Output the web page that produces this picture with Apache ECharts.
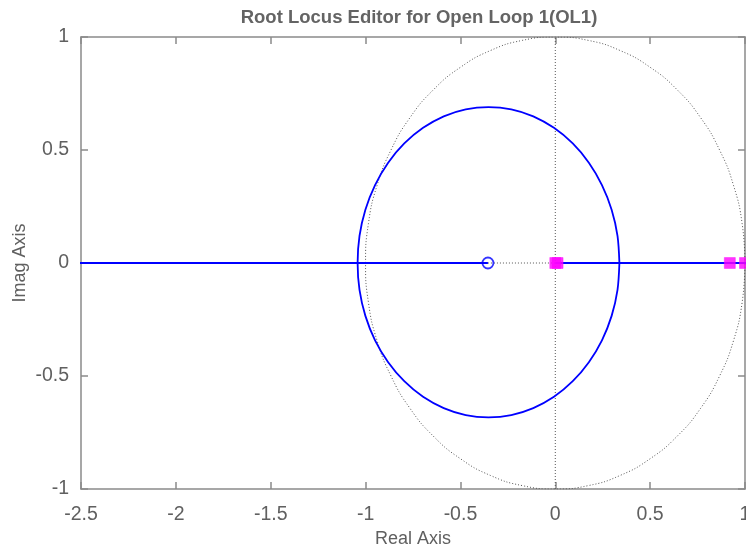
<!DOCTYPE html>
<html>
<head>
<meta charset="utf-8">
<script src="https://cdn.jsdelivr.net/npm/echarts@6/dist/echarts.min.js"></script>
<style>html,body{margin:0;padding:0;background:#fff}#c{width:746px;height:552px}</style>
</head>
<body>
<div id="c"></div>
<script>
// Tick values
const xTicks = [-2.5, -2, -1.5, -1, -0.5, 0, 0.5, 1];
const yTicks = [-1, -0.5, 0, 0.5, 1];

// Root locus branch (closed loop around the zero), upper half then lower half
const locusCircle = [
  [0.338, 0], [0.328, 0.120], [0.297, 0.236], [0.246, 0.345], [0.177, 0.444],
  [0.092, 0.529], [-0.007, 0.598], [-0.116, 0.649], [-0.232, 0.680],
  [-0.352, 0.690], [-0.472, 0.680], [-0.588, 0.649], [-0.697, 0.598],
  [-0.796, 0.529], [-0.881, 0.444], [-0.950, 0.345], [-1.001, 0.236],
  [-1.032, 0.120], [-1.042, 0],
  [-1.032, -0.119], [-1.001, -0.234], [-0.950, -0.342], [-0.881, -0.439],
  [-0.796, -0.523], [-0.697, -0.592], [-0.588, -0.642], [-0.472, -0.673],
  [-0.352, -0.683], [-0.232, -0.673], [-0.116, -0.642], [-0.007, -0.592],
  [0.092, -0.523], [0.177, -0.439], [0.246, -0.342], [0.297, -0.234],
  [0.328, -0.119], [0.338, 0]
];
// Real-axis locus segments
const locusRealLeft = [[-2.6, 0], [-0.355, 0]];
const locusRealRight = [[0, 0], [1.05, 0]];
// Dotted guide segment between zero and pole
const dottedReal = [[-0.355, 0], [0, 0]];
// Dotted imaginary axis
const dottedImag = [[0, -1], [0, 1]];
// Unit circle (dotted)
const unitCircle = [
  [1, 0], [0.985, 0.174], [0.940, 0.342], [0.866, 0.5], [0.766, 0.643],
  [0.643, 0.766], [0.5, 0.866], [0.342, 0.940], [0.174, 0.985], [0, 1],
  [-0.174, 0.985], [-0.342, 0.940], [-0.5, 0.866], [-0.643, 0.766],
  [-0.766, 0.643], [-0.866, 0.5], [-0.940, 0.342], [-0.985, 0.174], [-1, 0],
  [-0.985, -0.174], [-0.940, -0.342], [-0.866, -0.5], [-0.766, -0.643],
  [-0.643, -0.766], [-0.5, -0.866], [-0.342, -0.940], [-0.174, -0.985], [0, -1],
  [0.174, -0.985], [0.342, -0.940], [0.5, -0.866], [0.643, -0.766],
  [0.766, -0.643], [0.866, -0.5], [0.940, -0.342], [0.985, -0.174], [1, 0]
];
// Zeros and poles
const zeros = [[-0.355, 0]];
const poles = [[0, 0], [0.012, 0], [0.92, 0], [1.0, 0]];

const FONT = '"Liberation Sans", Arial, Helvetica, sans-serif';
const TXT = '#606060';
const AX = '#8a8a8a';

const chart = echarts.init(document.getElementById('c'), null, {renderer: 'canvas'});

const baseX = {
  type: 'value', min: -2.5, max: 1, interval: 0.5,
  axisLine: {show: true, onZero: false, lineStyle: {color: AX, width: 1.5}},
  axisTick: {show: true, inside: true, length: 7, lineStyle: {color: AX, width: 1.5}},
  splitLine: {show: false}
};
const baseY = {
  type: 'value', min: -1, max: 1, interval: 0.5,
  axisLine: {show: true, onZero: false, lineStyle: {color: AX, width: 1.5}},
  axisTick: {show: true, inside: true, length: 7, lineStyle: {color: AX, width: 1.5}},
  splitLine: {show: false}
};

const lineSeries = (data, color, width, type, z, smooth) => ({
  type: 'line', data: data, showSymbol: false, symbol: 'none', silent: true,
  smooth: smooth || false,
  lineStyle: {color: color, width: width, type: type}, z: z, animation: false
});

chart.setOption({
  animation: false,
  backgroundColor: '#ffffff',
  title: {
    text: 'Root Locus Editor for Open Loop 1(OL1)',
    left: 414, textAlign: 'center', top: 3,
    textStyle: {fontFamily: FONT, fontSize: 18.5, fontWeight: 'bold', color: '#646464'}
  },
  grid: {left: 81, right: 1, top: 37, bottom: 63, containLabel: false, outerBoundsMode: 'none'},
  xAxis: [
    Object.assign({}, baseX, {
      position: 'bottom',
      name: 'Real Axis', nameLocation: 'middle', nameGap: 41, nameMoveOverlap: false,
      nameTextStyle: {fontFamily: FONT, fontSize: 18, color: TXT},
      axisLabel: {show: true, margin: 16, fontFamily: FONT, fontSize: 19.5, color: TXT,
        formatter: v => xTicks.includes(v) ? String(v) : ''}
    }),
    Object.assign({}, baseX, {position: 'top', axisLabel: {show: false}})
  ],
  yAxis: [
    Object.assign({}, baseY, {
      position: 'left',
      name: 'Imag Axis', nameLocation: 'middle', nameGap: 52, nameMoveOverlap: false,
      nameTextStyle: {fontFamily: FONT, fontSize: 18, color: TXT},
      axisLabel: {show: true, margin: 12, fontFamily: FONT, fontSize: 19.5, color: TXT,
        formatter: v => yTicks.includes(v) ? String(v) : ''}
    }),
    Object.assign({}, baseY, {position: 'right', axisLabel: {show: false}})
  ],
  series: [
    lineSeries(unitCircle, '#555555', 1, [1, 2], 1, true),
    lineSeries(dottedImag, '#555555', 1, [1, 2], 1),
    lineSeries(dottedReal, '#555555', 1, [1, 2], 1),
    lineSeries(locusCircle, '#0000ff', 1.8, 'solid', 2, 0.3),
    lineSeries(locusRealLeft, '#0000ff', 1.8, 'solid', 2),
    lineSeries(locusRealRight, '#0000ff', 1.8, 'solid', 2),
    {
      type: 'scatter', data: zeros, symbol: 'circle', symbolSize: 11, z: 5,
      itemStyle: {color: 'rgba(255,255,255,0)', borderColor: '#0000ff', borderWidth: 1.8},
      silent: true
    },
    {
      type: 'scatter', data: poles, symbol: 'rect', symbolSize: 11, z: 6,
      itemStyle: {color: '#ff00ff', borderColor: '#ff00ff', borderWidth: 0.5},
      silent: true
    }
  ]
});
</script>
</body>
</html>
